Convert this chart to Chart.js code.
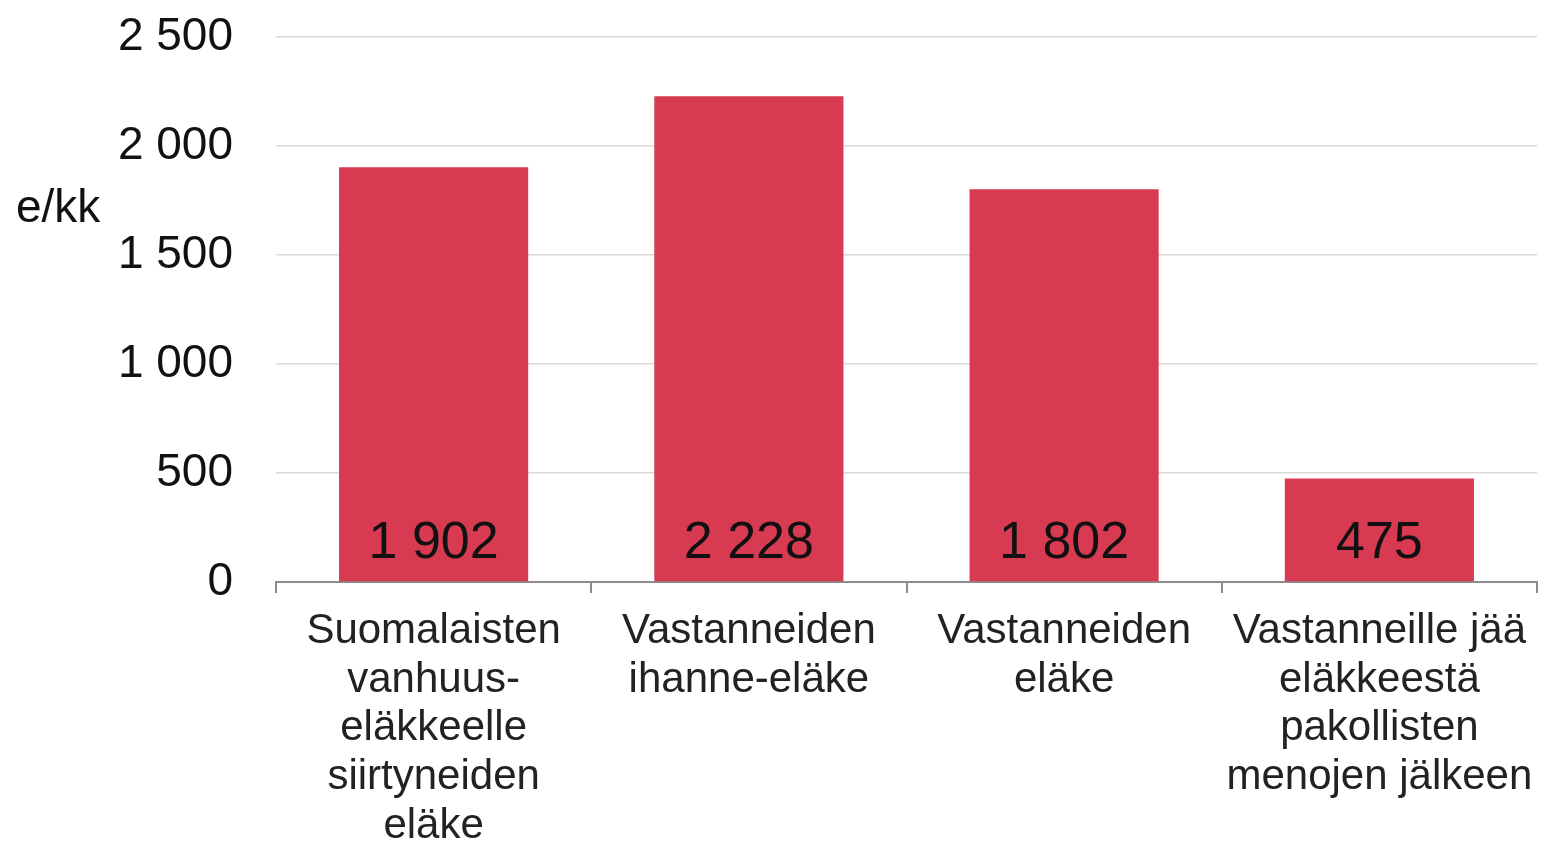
<!DOCTYPE html>
<html>
<head>
<meta charset="utf-8">
<script src="https://cdn.jsdelivr.net/npm/chart.js@4"></script>
<style>
    html, body { margin: 0; padding: 0; background: #fff; }
    #wrap { width: 1544px; height: 844px; }
</style>
</head>
<body>
<div id="wrap"><canvas id="chart"></canvas></div>
<script>
const categories = [
    ['Suomalaisten', 'vanhuus-', 'eläkkeelle', 'siirtyneiden', 'eläke'],
    ['Vastanneiden', 'ihanne-eläke'],
    ['Vastanneiden', 'eläke'],
    ['Vastanneille jää', 'eläkkeestä', 'pakollisten', 'menojen jälkeen']
];
const pensionValues = [1902, 2228, 1802, 475];
const yTicks = [0, 500, 1000, 1500, 2000, 2500];
const unitLabel = 'e/kk';

const FONT = '"Liberation Sans", Arial, sans-serif';
const BAR_COLOR = '#d73a51';

function fmt(v) {
    return String(v).replace(/\B(?=(\d{3})+(?!\d))/g, ' ');
}

// value labels inside bars + unit label
const labelPlugin = {
    id: 'labels',
    afterDatasetsDraw(chart) {
        const ctx = chart.ctx;
        const yScale = chart.scales.y;
        const base = yScale.getPixelForValue(0);
        ctx.save();
        ctx.fillStyle = '#111';
        ctx.font = '52px ' + FONT;
        ctx.textAlign = 'center';
        ctx.textBaseline = 'middle';
        chart.getDatasetMeta(0).data.forEach((bar, i) => {
            ctx.fillText(fmt(pensionValues[i]), bar.x, base - 38);
        });
        ctx.font = '46px ' + FONT;
        ctx.textAlign = 'left';
        ctx.fillText(unitLabel, 16, 209);
        ctx.restore();
    }
};

new Chart(document.getElementById('chart'), {
    type: 'bar',
    data: {
        labels: categories,
        datasets: [{
            data: pensionValues,
            backgroundColor: BAR_COLOR,
            borderWidth: 0,
            barPercentage: 0.6,
            categoryPercentage: 1.0
        }]
    },
    options: {
        responsive: true,
        maintainAspectRatio: false,
        animation: false,
        layout: {
            padding: { top: 37, right: 7, bottom: 0, left: 0 }
        },
        plugins: {
            legend: { display: false },
            tooltip: { enabled: false }
        },
        scales: {
            x: {
                afterFit(scale) {
                    scale.height = 262;
                    scale.paddingLeft = 0;
                    scale.paddingRight = 0;
                },
                border: { color: '#8c8c8c', width: 2 },
                grid: {
                    offset: true,
                    drawOnChartArea: false,
                    drawTicks: true,
                    tickLength: 11,
                    color: '#8c8c8c',
                    lineWidth: 2
                },
                ticks: {
                    autoSkip: false,
                    maxRotation: 0,
                    minRotation: 0,
                    padding: 14,
                    color: '#222',
                    font: { family: FONT, size: 42, lineHeight: 1.16 }
                }
            },
            y: {
                min: 0,
                max: 2500,
                afterFit(scale) {
                    scale.width = 276;
                    scale.paddingTop = 0;
                    scale.paddingBottom = 0;
                },
                afterBuildTicks(scale) {
                    scale.ticks = yTicks.map(v => ({ value: v }));
                },
                border: { display: false },
                grid: {
                    color: '#d9d9d9',
                    lineWidth: 1.5,
                    drawTicks: false
                },
                ticks: {
                    padding: 43,
                    color: '#111',
                    font: { family: FONT, size: 46 },
                    callback: v => fmt(v)
                }
            }
        }
    },
    plugins: [labelPlugin]
});
</script>
</body>
</html>
